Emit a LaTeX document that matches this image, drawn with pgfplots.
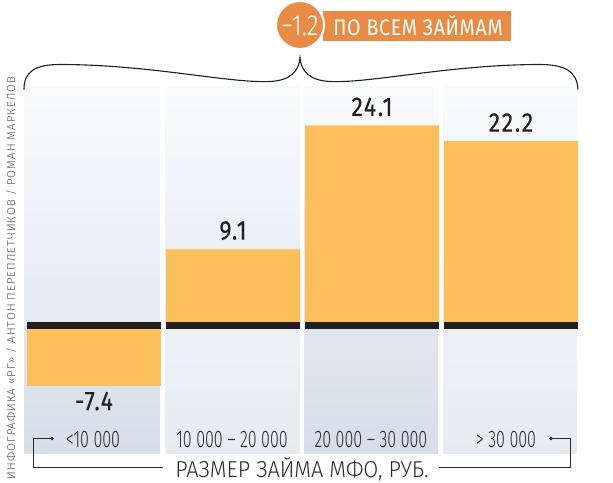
\documentclass[border=0pt]{standalone}
\usepackage{fontspec}
\setmainfont{Fira Sans}
\usepackage{pgfplots}
\pgfplotsset{compat=1.18}
\newfontfamily\valfont[FakeStretch=0.85,FakeBold=0.3,LetterSpace=6]{Fira Sans}
\newfontfamily\catfont[FakeStretch=0.67]{Fira Sans Light}
\newfontfamily\titfont[FakeStretch=0.945]{Fira Sans Light}
\newfontfamily\badgefont[FakeStretch=0.85]{Fira Sans Light}
\newfontfamily\badgetwo[FakeStretch=0.87,LetterSpace=3]{Fira Sans}
\newfontfamily\credfont[LetterSpace=8.5]{Fira Sans Light}
\definecolor{barc}{HTML}{FBBF5C}
\definecolor{badgec}{HTML}{E88B45}
\definecolor{zeroc}{HTML}{231F20}
\definecolor{valc}{HTML}{231F20}
\definecolor{catc}{HTML}{2A2A2A}
\definecolor{credc}{HTML}{555555}
\definecolor{ptop}{HTML}{FAFBFD}
\definecolor{pmid}{HTML}{E4EAF1}
\definecolor{dA}{HTML}{E1E7EF}
\definecolor{dB}{HTML}{D5DEE9}
\definecolor{lA}{HTML}{ECF1F4}
\definecolor{lB}{HTML}{E5ECF1}
\begin{document}
\begin{tikzpicture}
\begin{scope}[x=1pt,y=-1pt]
\path[use as bounding box] (0,0) rectangle (613,481);
\foreach \L/\R/\a/\b in {24/160/dA/dB,165/300/lA/lB,304/438/dA/dB,443/577/lA/lB}{
  \shade[top color=ptop, bottom color=pmid] (\L,85) rectangle (\R,323);
  \shade[top color=\a, bottom color=\b] (\L,323) rectangle (\R,452);
}
\end{scope}
\begin{axis}[at={(0pt,0pt)},anchor=north west,scale only axis,
  width=613pt,height=481pt,
  xmin=-0.6763,xmax=3.7338,ymin=-19.128,ymax=39.104,
  hide axis,clip=false]
\addplot[ybar,bar width=0.964,bar shift=0pt,fill=barc,draw=none,
  nodes near coords,point meta=explicit symbolic,
  nodes near coords style={font=\valfont\fontsize{27}{27}\selectfont,text=valc,inner xsep=0pt,inner ysep=9pt,anchor=south}]
  coordinates {(1,9.1)[9.1] (2,24.1)[24.1] (3,22.2)[22.2]};
\addplot[ybar,bar width=0.964,bar shift=0pt,fill=barc,draw=none,
  nodes near coords,point meta=explicit symbolic,
  nodes near coords style={font=\valfont\fontsize{27}{27}\selectfont,text=valc,inner xsep=0pt,inner ysep=6pt,anchor=north}]
  coordinates {(0,-7.4)[-7.4]};
\end{axis}
\begin{scope}[x=1pt,y=-1pt]
\foreach \L/\R in {27/161,166/300,305/439,444/578}{
  \fill[zeroc] (\L,320) rectangle (\R,327);
}
\draw[line width=1.1pt,zeroc] (24,88) .. controls (24,70) and (35,63) .. (60,63)
  .. controls (150,63) and (230,82) .. (270,80)
  .. controls (290,79) and (299,70) .. (300,56)
  .. controls (301,70) and (310,79) .. (330,80)
  .. controls (370,82) and (450,63) .. (540,63)
  .. controls (565,63) and (577,70) .. (578,88);
\fill[badgec] (323,9) rectangle (511,39);
\draw[fill=badgec,draw=white,line width=2pt] (300,23.5) circle (24pt);
\node[text=white,font=\badgefont\fontsize{29}{29}\selectfont,inner sep=0] at (300,24) {−1.2};
\node[text=white,font=\badgetwo\fontsize{22.5}{22.5}\selectfont,inner sep=0] at (418,24.5) {ПО ВСЕМ ЗАЙМАМ};
\foreach \x/\t in {93/{<10 000},232/{10 000 – 20 000},371/{20 000 – 30 000},506/{> 30 000}}{
  \node[font=\catfont\fontsize{24}{24}\selectfont,text=catc,inner sep=0] at (\x,438) {\t};
}
\draw[line width=1pt,catc] (52,437) -- (33,437) -- (33,466) -- (163,466);
\fill[catc] (52,437) circle (1.8pt);
\draw[line width=1pt,catc] (551,437) -- (570,437) -- (570,466) -- (439,466);
\fill[catc] (551,437) circle (1.8pt);
\node[font=\titfont\fontsize{23}{23}\selectfont,text=catc,inner sep=0,anchor=base] at (302,475.5) {РАЗМЕР ЗАЙМА МФО, РУБ.};
\node[rotate=90,anchor=west,font=\credfont\fontsize{11.5}{11.5}\selectfont,text=credc,inner sep=0] at (11,478) {ИНФОГРАФИКА «РГ» / АНТОН ПЕРЕПЛЕТЧИКОВ / РОМАН МАРКЕЛОВ};
\end{scope}
\end{tikzpicture}
\end{document}
